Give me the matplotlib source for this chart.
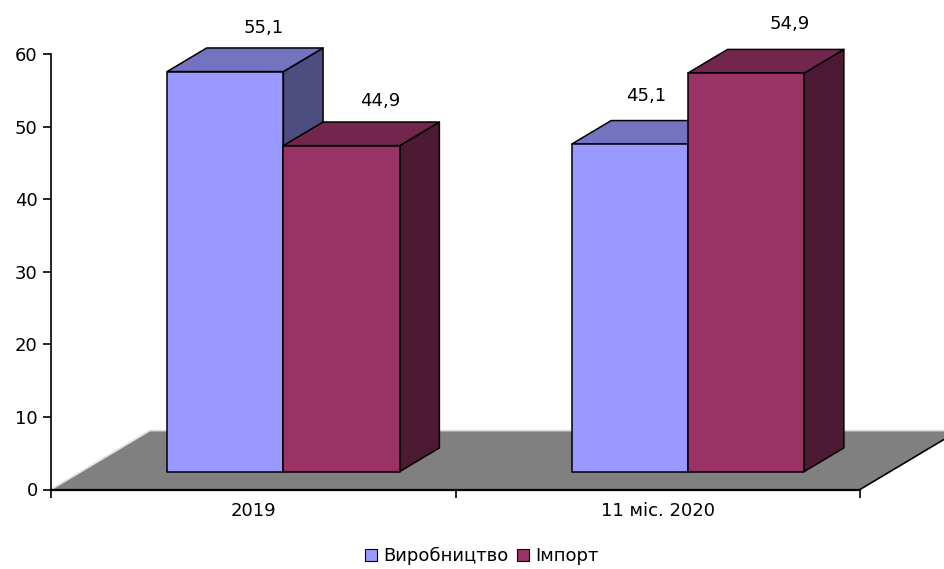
import matplotlib
matplotlib.use("Agg")
import matplotlib.pyplot as plt
from matplotlib.patches import Polygon, Patch

plt.rcParams['font.family'] = ['DejaVu Sans']

categories = ["2019", "11 міс. 2020"]
series_names = ["Виробництво", "Імпорт"]
production = [55.1, 45.1]
imports = [44.9, 54.9]
value_labels = [["55,1", "45,1"], ["44,9", "54,9"]]
yticks = [0, 10, 20, 30, 40, 50, 60]

front_colors = ["#9999FF", "#993366"]
top_colors = ["#7373BF", "#73264D"]
side_colors = ["#4D4D80", "#4D1A33"]

# label placement offsets (px) relative to the centre of each bar's top back edge
label_dx = [[-1, -23], [-1, 4]]
label_dy = [[20, 24.5], [21, 25.5]]

W, H = 945, 569
fig = plt.figure(figsize=(W / 100, H / 100), dpi=100)
# axes: x 0..2 -> px 51..860 ; y 0..60 -> px 489.5..54
x0, x1 = 51, 860
yb, yt = 489.5, 54
ax = fig.add_axes([x0 / W, 1 - yb / H, (x1 - x0) / W, (yb - yt) / H])
ax.set_xlim(0, 2)
ax.set_ylim(0, 60)

px_per_x = (x1 - x0) / 2.0
px_per_y = (yb - yt) / 60.0
DX = 99 / px_per_x       # depth shift in category units for full depth
DY = 59 / px_per_y       # depth shift in value units for full depth
d_front, d_back = 0.305, 0.705
bar_w = 0.2876


def P(x, v, d):
    return (x + d * DX, v + d * DY)


# floor
floor = Polygon([P(0, 0, 0), P(2, 0, 0), P(2, 0, 1), P(0, 0, 1)], closed=True,
                facecolor="#808080", edgecolor="none", clip_on=False, zorder=1)
ax.add_patch(floor)
ax.plot(*zip(P(0, 0, 0), P(0, 0, 1), P(2.3, 0, 1)), color="#E0E0E0", lw=1.3,
        clip_on=False, zorder=1.5)
ax.plot(*zip(P(2, 0, 0), P(2, 0, 1)), color="black", lw=1.2, clip_on=False, zorder=1.5)

series = [production, imports]
for g in range(len(categories)):
    center = g + 0.5
    for s in range(2):
        v = series[s][g]
        xl = center - bar_w + s * bar_w
        xr = xl + bar_w
        side = [P(xr, 0, d_front), P(xr, 0, d_back), P(xr, v, d_back), P(xr, v, d_front)]
        top = [P(xl, v, d_front), P(xr, v, d_front), P(xr, v, d_back), P(xl, v, d_back)]
        front = [P(xl, 0, d_front), P(xr, 0, d_front), P(xr, v, d_front), P(xl, v, d_front)]
        z = 2 + g * 2 + s
        for poly, col in ((side, side_colors[s]), (top, top_colors[s]), (front, front_colors[s])):
            ax.add_patch(Polygon(poly, closed=True, facecolor=col, edgecolor="black",
                                 lw=1.1, joinstyle="round", clip_on=False, zorder=z))
        lx, ly = P((xl + xr) / 2, v, d_back)
        ax.annotate(value_labels[s][g], (lx, ly),
                    xytext=(label_dx[s][g] * 0.72, label_dy[s][g] * 0.72),
                    textcoords="offset points",
                    ha="center", va="center", fontsize=13, zorder=10, annotation_clip=False)

# axes styling
for sp in ("top", "right"):
    ax.spines[sp].set_visible(False)
ax.spines["left"].set_linewidth(1.2)
ax.spines["bottom"].set_linewidth(1.6)
ax.spines["bottom"].set_zorder(1.6)
ax.set_facecolor("none")
ax.set_yticks(yticks)
ax.set_yticklabels([str(t) for t in yticks], fontsize=13)
ax.tick_params(axis="y", direction="out", length=5.5, width=1.2, pad=4)
ax.set_xticks([0, 1, 2])
ax.set_xticklabels(["", "", ""])
ax.tick_params(axis="x", which="major", direction="out", length=5.5, width=1.2)
ax.set_xticks([0.5, 1.5], minor=True)
ax.set_xticklabels(categories, minor=True, fontsize=13)
ax.tick_params(axis="x", which="minor", length=0, pad=9)

handles = [Patch(facecolor=front_colors[i], edgecolor="black", lw=0.8, label=series_names[i])
           for i in range(2)]
fig.legend(handles=handles, loc="center", bbox_to_anchor=(0.51, 1 - 556 / H), ncol=2,
           frameon=False, fontsize=13, handlelength=0.65, handleheight=0.65,
           handletextpad=0.35, columnspacing=0.5)

fig.savefig("out.png", dpi=100)
